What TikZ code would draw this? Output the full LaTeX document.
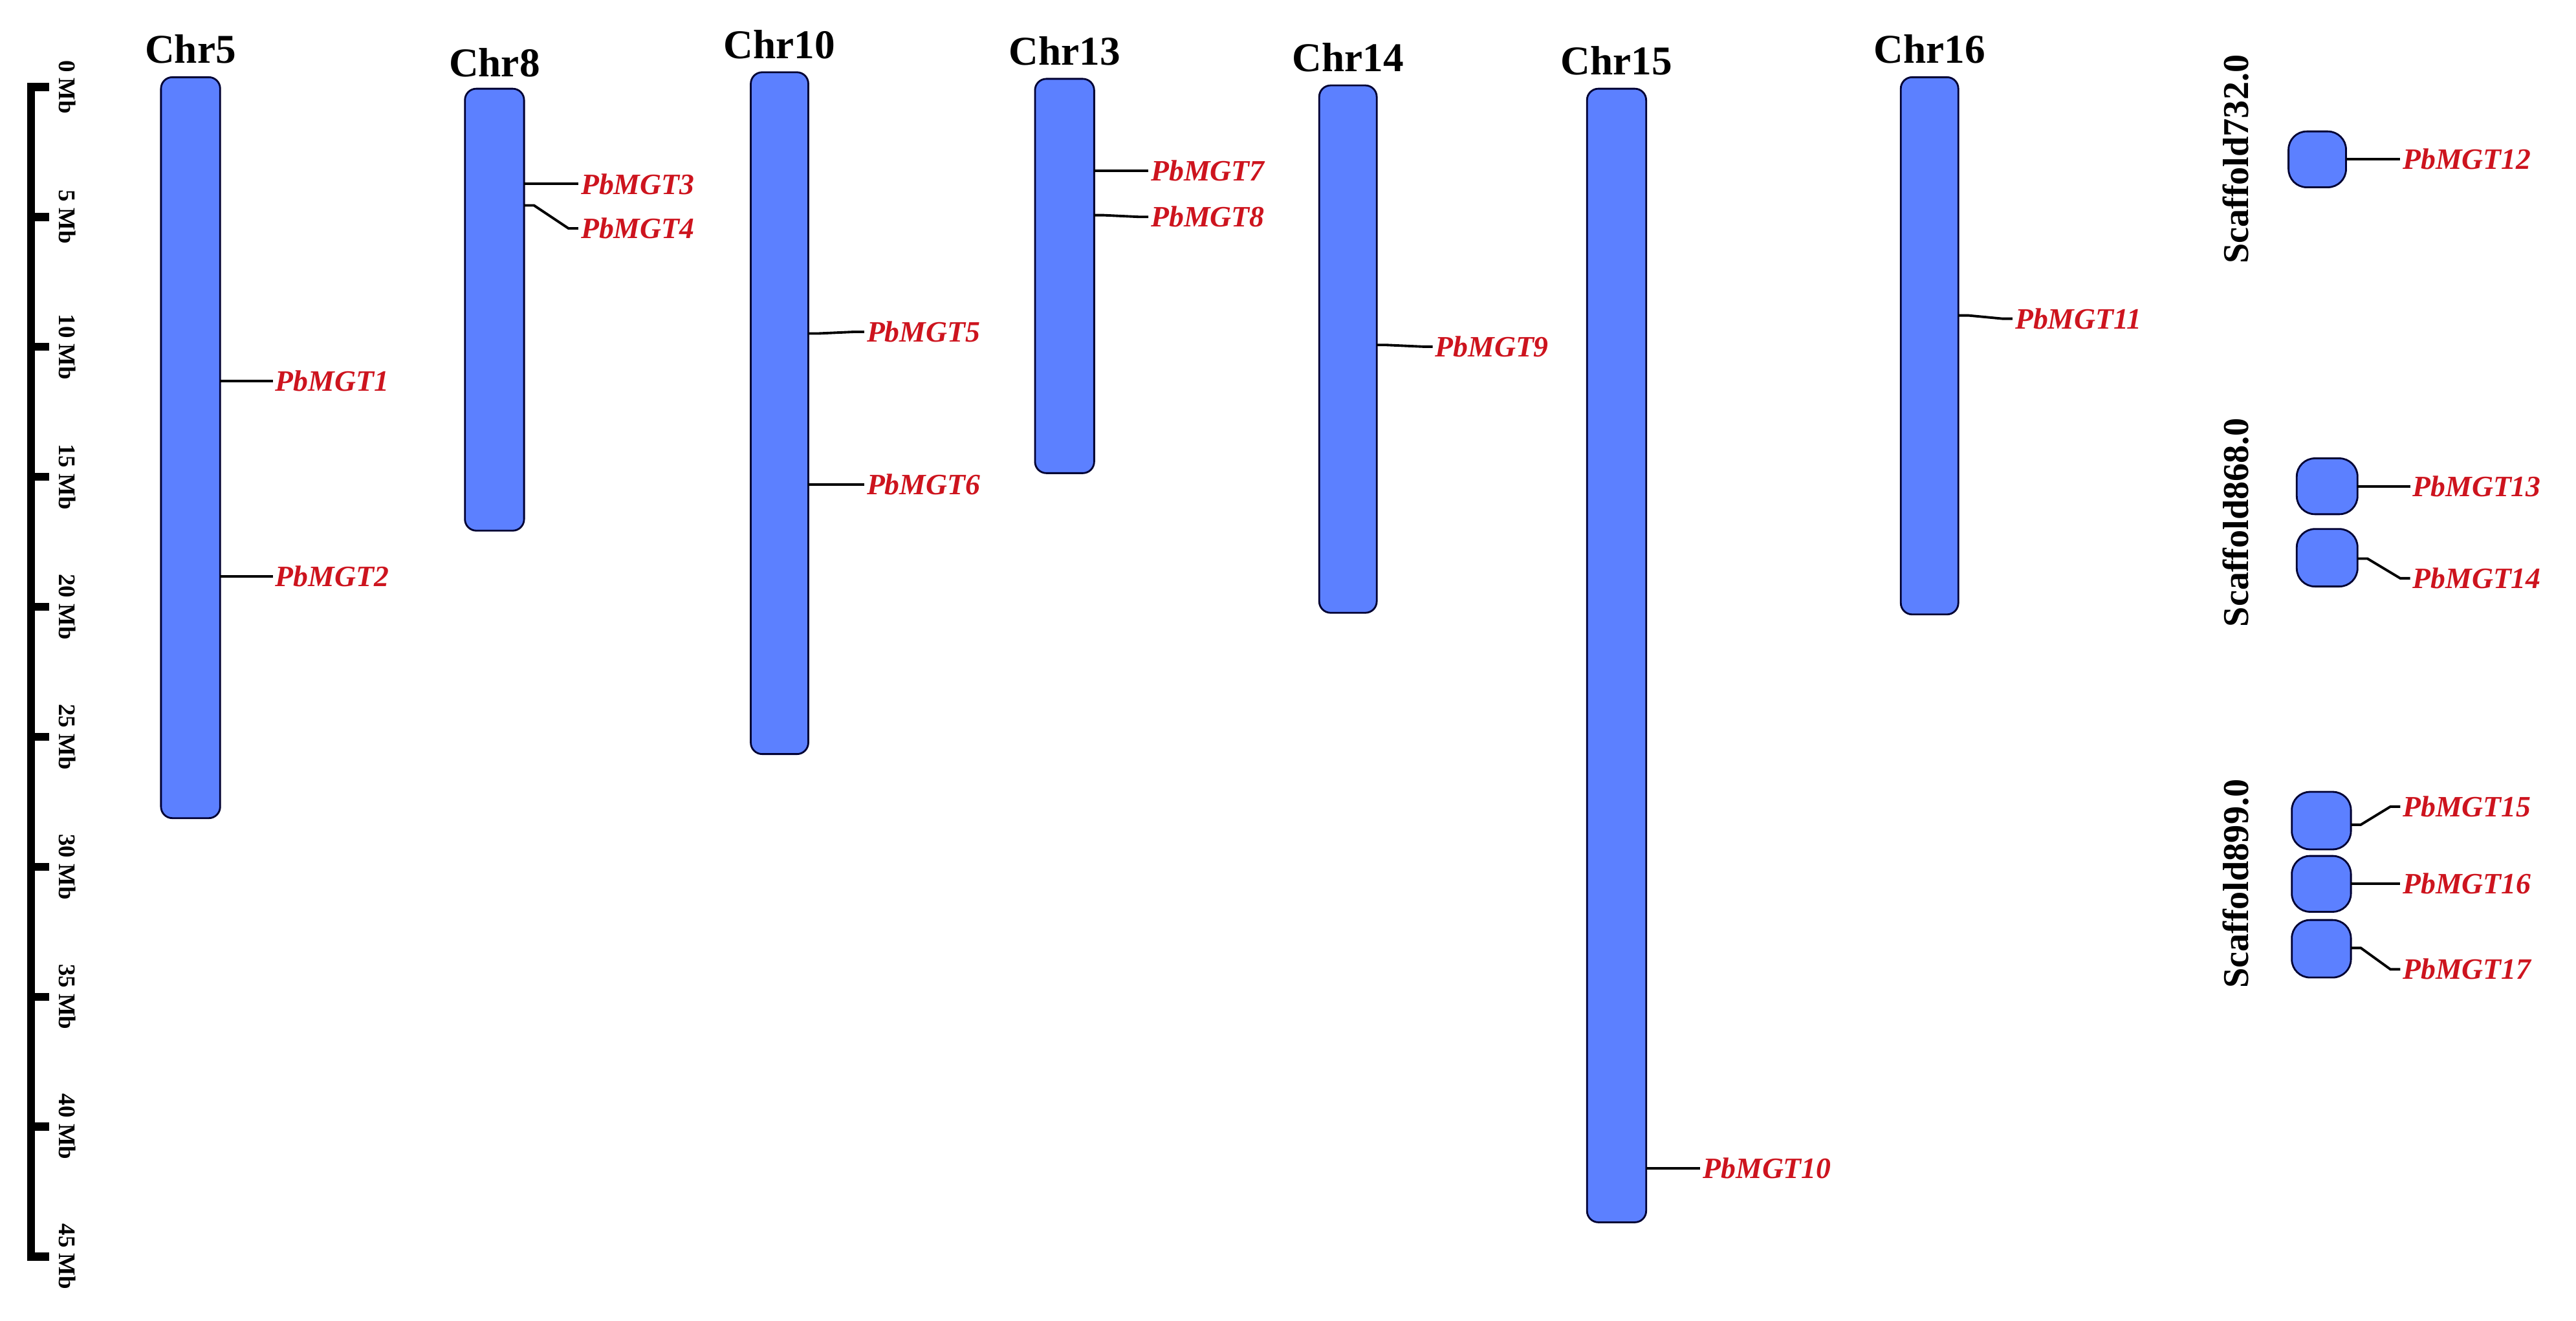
\documentclass[tikz,border=0pt]{standalone}
\usepackage{fontspec}
\setmainfont{Liberation Serif}
\definecolor{chrblue}{RGB}{92,128,255}
\definecolor{genered}{RGB}{205,20,30}
\begin{document}
\begin{tikzpicture}[x=0.0254cm,y=-0.0254cm,
  chr/.style={draw=black!80!blue,line width=0.8pt,fill=chrblue,rounded corners=5pt},
  scf/.style={draw=black!80!blue,line width=0.8pt,fill=chrblue,rounded corners=8pt},
  chrlab/.style={font=\fontsize{18}{18}\selectfont\bfseries},
  scflab/.style={font=\fontsize{16}{16}\selectfont\bfseries,rotate=90},
  gene/.style={font=\fontsize{13}{13}\selectfont\bfseries\itshape,text=genered,anchor=west,inner sep=1pt},
  conn/.style={line width=1.1pt},
  ticklab/.style={font=\fontsize{10.5}{10.5}\selectfont\bfseries,rotate=-90}]
\useasboundingbox (0,0) rectangle (1568,804);
% scale axis
\draw[line width=3.5pt] (30,53) -- (19,53) -- (19,765) -- (30,765);
\foreach \i in {0,5,...,45}{
  \pgfmathsetmacro\yy{53+\i*15.82}
  \draw[line width=3.5pt] (19,\yy) -- (30,\yy);
  \node[ticklab] (t\i) at (41,\yy) {\i\ Mb};
}
% chromosomes
\newcommand\chrom[6]{%
  \draw[chr] (#2,#4) rectangle (#3,#5);
  \coordinate (#1) at (#3,#4);
  \node[chrlab] (#1lab) at ({(#2+#3)/2},#6) {#1};}
\chrom{Chr5}{98}{134}{47}{498}{30}
\chrom{Chr8}{283}{319}{54}{323}{38}
\chrom{Chr10}{457}{492}{44}{459}{27}
\chrom{Chr13}{630}{666}{48}{288}{31}
\chrom{Chr14}{803}{838}{52}{373}{35}
\chrom{Chr15}{966}{1002}{54}{744}{37}
\chrom{Chr16}{1157}{1192}{47}{374}{30}
% scaffolds
\draw[scf] (1393,80) rectangle (1428,114);
\draw[scf] (1398,279) rectangle (1435,313);
\draw[scf] (1398,322) rectangle (1435,357);
\draw[scf] (1395,482) rectangle (1431,517);
\draw[scf] (1395,521) rectangle (1431,555);
\draw[scf] (1395,560) rectangle (1431,595);
\node[scflab] (s732) at (1361,97) {Scaffold732.0};
\node[scflab] (s868) at (1361,318) {Scaffold868.0};
\node[scflab] (s899) at (1361,538) {Scaffold899.0};
% genes: \gene{name}{x edge}{y at chr}{y at label}{x label}
\newcommand\gene[5]{%
  \node[gene] (#1) at (#5,#4) {#1};
  \coordinate (#1a) at (#2,#3);
  \draw[conn] (#1a) -- ++(6,0) -- ($(#1.west)+(-6,0)$) -- (#1.west);}
\usetikzlibrary{calc}
\gene{PbMGT1}{134}{232}{232}{166}
\gene{PbMGT2}{134}{351}{351}{166}
\gene{PbMGT3}{319}{112}{112}{352}
\gene{PbMGT4}{319}{125}{139}{352}
\gene{PbMGT5}{492}{203}{202}{526}
\gene{PbMGT6}{492}{295}{295}{526}
\gene{PbMGT7}{666}{104}{104}{699}
\gene{PbMGT8}{666}{131}{132}{699}
\gene{PbMGT9}{838}{210}{211}{872}
\gene{PbMGT10}{1002}{711}{711}{1035}
\gene{PbMGT11}{1192}{192}{194}{1225}
\gene{PbMGT12}{1428}{97}{97}{1461}
\gene{PbMGT13}{1435}{296}{296}{1467}
\gene{PbMGT14}{1435}{340}{352}{1467}
\gene{PbMGT15}{1431}{502}{491}{1461}
\gene{PbMGT16}{1431}{538}{538}{1461}
\gene{PbMGT17}{1431}{577}{590}{1461}
\end{tikzpicture}
\end{document}
